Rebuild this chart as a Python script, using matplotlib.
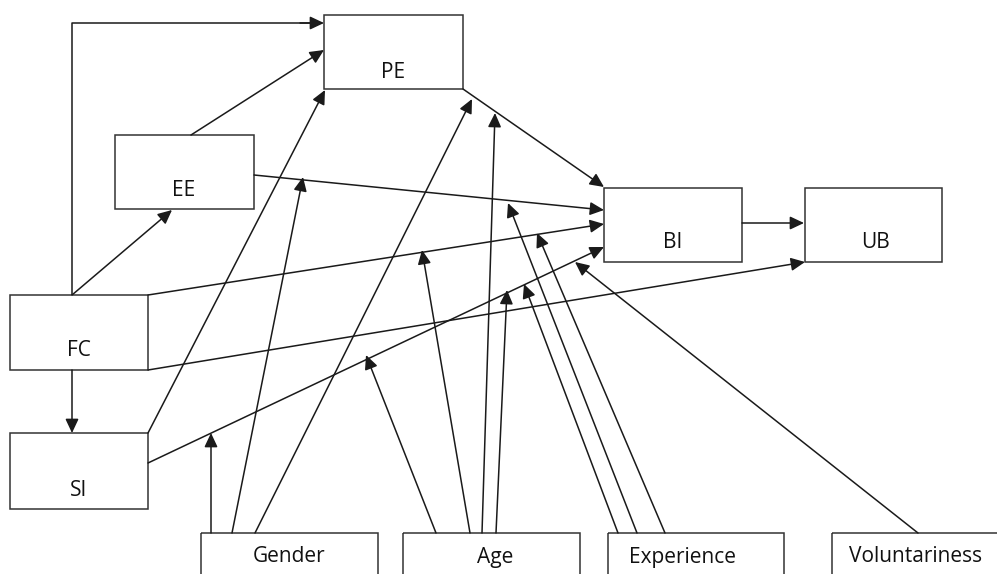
import matplotlib
matplotlib.use("Agg")
import matplotlib.pyplot as plt
from matplotlib.patches import Rectangle, FancyArrowPatch

plt.rcParams['font.family'] = ['Open Sans', 'DejaVu Sans']

# Constructs and moderators
constructs = ["PE", "EE", "FC", "SI", "BI", "UB"]
moderators = ["Gender", "Age", "Experience", "Voluntariness"]

# Box layout in pixels (left, top, right, bottom), y grows downward
box_xy = {
    "PE": (324, 15, 463, 89),
    "EE": (115, 135, 254, 209),
    "FC": (10, 295, 148, 370),
    "SI": (10, 433, 148, 509),
    "BI": (604, 188, 742, 262),
    "UB": (805, 188, 942, 262),
    "Gender": (201, 533, 378, 600),
    "Age": (403, 533, 580, 600),
    "Experience": (608, 533, 784, 600),
    "Voluntariness": (832, 533, 1010, 600),
}
label_xy = {
    "PE": (393, 72), "EE": (184, 191), "FC": (79, 351), "SI": (79, 490),
    "BI": (673, 243), "UB": (875, 243),
    "Gender": (289, 557), "Age": (495, 557),
    "Experience": (682, 557), "Voluntariness": (916, 557),
}

# Direct paths (start point, end point)
paths = [
    ((191, 135), (324, 50)),    # EE -> PE
    ((72, 295), (172, 210)),    # FC -> EE
    ((72, 370), (72, 433)),     # FC -> SI
    ((254, 175), (604, 210)),   # EE -> BI
    ((463, 89), (604, 187)),    # PE -> BI
    ((148, 295), (604, 224)),   # FC -> BI
    ((148, 370), (805, 262)),   # FC -> UB
    ((148, 463), (604, 247)),   # SI -> BI
    ((742, 223), (804, 223)),   # BI -> UB
    ((148, 433), (325, 90)),    # SI -> PE
]
# Moderator arrows (from moderator box top to the moderated path)
mod_paths = [
    ((211, 533), (211, 433)),   # Gender
    ((232, 533), (303, 177)),
    ((255, 533), (472, 99)),
    ((436, 533), (366, 355)),   # Age
    ((470, 533), (422, 250)),
    ((482, 533), (495, 113)),
    ((496, 533), (507, 290)),
    ((618, 533), (524, 284)),   # Experience
    ((637, 533), (508, 203)),
    ((665, 533), (537, 233)),
    ((918, 533), (575, 262)),   # Voluntariness
]

fig = plt.figure(figsize=(9.97, 5.74), dpi=100)
ax = fig.add_axes([0, 0, 1, 1])
ax.set_xlim(0, 997)
ax.set_ylim(574, 0)
ax.axis("off")

lc = "#1a1a1a"
astyle = "-|>,head_length=0.85,head_width=0.4"
for name in constructs + moderators:
    x0, y0, x1, y1 = box_xy[name]
    ax.add_patch(Rectangle((x0, y0), x1 - x0, y1 - y0, fill=False,
                           edgecolor="#333333", lw=1.1))
    lx, ly = label_xy[name]
    ax.text(lx, ly, name, ha="center", va="center", fontsize=15, color="#111111")

# FC -> PE elbow connector
ax.plot([72, 72, 314], [295, 23, 23], color=lc, lw=1.1, solid_capstyle="butt")
ax.add_patch(FancyArrowPatch((300, 23), (324, 23), arrowstyle=astyle,
                             mutation_scale=10, color=lc, lw=1.1,
                             shrinkA=0, shrinkB=0))

for (p0, p1) in paths + mod_paths:
    ax.add_patch(FancyArrowPatch(p0, p1, arrowstyle=astyle,
                                 mutation_scale=10, color=lc, lw=1.1,
                                 shrinkA=0, shrinkB=0))

fig.savefig("out.png", dpi=100)
